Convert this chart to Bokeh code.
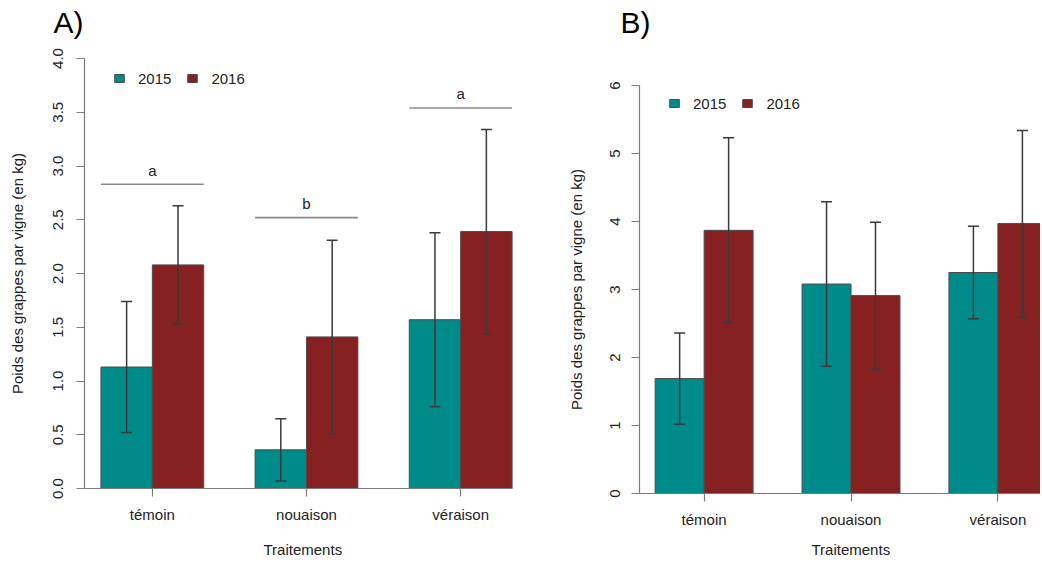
from bokeh.plotting import figure
from bokeh.models import (Range1d, FixedTicker, Whisker, TeeHead, ColumnDataSource,
                          Legend, LegendItem, Title, NumeralTickFormatter)
from bokeh.layouts import row, column
from bokeh.embed import file_html
from bokeh.resources import INLINE
from bokeh.core.properties import value

# ---------------- data ----------------
categories = ["témoin", "nouaison", "véraison"]
years = ["2015", "2016"]

a_2015 = [1.13, 0.36, 1.57]
a_2015_err = [0.61, 0.29, 0.81]
a_2016 = [2.08, 1.41, 2.39]
a_2016_err = [0.55, 0.90, 0.95]
a_letters = ["a", "b", "a"]
a_letter_y = [2.83, 2.52, 3.54]

b_2015 = [1.69, 3.08, 3.25]
b_2015_err = [0.67, 1.21, 0.68]
b_2016 = [3.87, 2.91, 3.97]
b_2016_err = [1.36, 1.08, 1.37]

a_yticks = [0.0, 0.5, 1.0, 1.5, 2.0, 2.5, 3.0, 3.5, 4.0]
b_yticks = [0, 1, 2, 3, 4, 5, 6]

TEAL = "#008B8B"
RED = "#872020"
FONT = "Liberation Sans"
TXT = "#222222"
AX = "#7a7a7a"
ERR = "#3a3a3a"


def spacer(k):
    # blank title used only to push the next title away from the frame
    return Title(text=" ", text_font_size="2px", text_color="#ffffff", standoff=k)


def make_panel(vals15, err15, vals16, err16, yticks, ymax, tick_fmt, geom, legend_loc,
               tag, tag_offset, tag_gap, xlab_offset, xlab_gap,
               ytick_standoff, ylab_standoff):
    w, h, ml, mr, mt, mb, xend = geom
    p = figure(width=w, height=h, output_backend="svg", toolbar_location=None,
               x_range=Range1d(0.68, xend), y_range=Range1d(0, ymax),
               min_border_left=ml, min_border_right=mr, min_border_top=mt, min_border_bottom=mb)
    p.outline_line_color = None
    p.grid.visible = False
    p.background_fill_color = "white"
    p.title.visible = False

    n = len(categories)
    centers = [3 * i + 2 for i in range(n)]
    x15 = [c - 0.5 for c in centers]
    x16 = [c + 0.5 for c in centers]

    s15 = ColumnDataSource(dict(x=x15, top=vals15,
                                up=[v + e for v, e in zip(vals15, err15)],
                                lo=[v - e for v, e in zip(vals15, err15)]))
    s16 = ColumnDataSource(dict(x=x16, top=vals16,
                                up=[v + e for v, e in zip(vals16, err16)],
                                lo=[v - e for v, e in zip(vals16, err16)]))

    r15 = p.vbar(x="x", top="top", bottom=0, width=1, source=s15, fill_color=TEAL,
                 line_color="#4a4a4a", line_width=1)
    r16 = p.vbar(x="x", top="top", bottom=0, width=1, source=s16, fill_color=RED,
                 line_color="#4a4a4a", line_width=1)

    for s in (s15, s16):
        wk = Whisker(source=s, base="x", upper="up", lower="lo", line_color=ERR, line_width=1.5,
                     upper_head=TeeHead(size=11, line_color=ERR, line_width=1.5),
                     lower_head=TeeHead(size=11, line_color=ERR, line_width=1.5),
                     level="overlay")
        p.add_layout(wk)

    # axes
    p.xaxis.ticker = FixedTicker(ticks=centers)
    p.xaxis.major_label_overrides = {c: cat for c, cat in zip(centers, categories)}
    p.xaxis.bounds = (0.68, 9)
    p.yaxis.ticker = FixedTicker(ticks=yticks)
    p.yaxis.formatter = NumeralTickFormatter(format=tick_fmt)
    p.yaxis.major_label_orientation = "vertical"
    for ax in (p.xaxis, p.yaxis):
        ax.axis_line_color = AX
        ax.major_tick_line_color = AX
        ax.axis_line_width = 1.2
        ax.major_tick_line_width = 1.2
        ax.major_tick_out = 8
        ax.major_tick_in = 0
        ax.minor_tick_line_color = None
        ax.major_label_text_font = FONT
        ax.major_label_text_font_size = "15px"
        ax.major_label_text_color = TXT
        ax.axis_label_text_font = FONT
        ax.axis_label_text_font_size = "15px"
        ax.axis_label_text_font_style = "normal"
        ax.axis_label_text_color = TXT
    p.xaxis.major_label_standoff = 9
    p.yaxis.major_label_standoff = ytick_standoff
    p.yaxis.axis_label = "Poids des grappes par vigne (en kg)"
    p.yaxis.axis_label_standoff = ylab_standoff

    # x axis title
    p.add_layout(spacer(xlab_gap), "below")
    p.add_layout(Title(text="Traitements", align="left", offset=xlab_offset,
                       vertical_align="top",
                       text_font=FONT, text_font_size="15px", text_font_style="normal",
                       text_color=TXT, standoff=0), "below")

    # panel tag
    p.add_layout(spacer(tag_gap), "above")
    p.add_layout(Title(text=tag, align="left", offset=tag_offset, text_font=FONT,
                       text_font_size="30px", text_font_style="normal", text_color="black",
                       standoff=0), "above")

    # legend
    legend = Legend(items=[LegendItem(label=years[0], renderers=[r15]),
                           LegendItem(label=years[1], renderers=[r16])],
                    orientation="horizontal", location=legend_loc,
                    background_fill_alpha=0, border_line_alpha=0,
                    glyph_width=12, glyph_height=10, label_standoff=13, spacing=15,
                    padding=0, margin=0, label_text_font=FONT, label_text_font_size="15px",
                    label_text_color=TXT, label_height=18)
    p.add_layout(legend)
    return p, centers


pA, centers = make_panel(a_2015, a_2015_err, a_2016, a_2016_err, a_yticks, 4, "0.0",
                         (540, 565, 84, 12, 58, 77, 9.32), (29, 401), "A)", -31, 16, 179, 11,
                         14, 24)

# significance bars and letters (panel A)
pA.segment(x0=[c - 1 for c in centers], x1=[c + 1 for c in centers], y0=a_letter_y, y1=a_letter_y,
           line_color="#8a8a8a", line_width=1.6)
pA.text(x=centers, y=a_letter_y, text=a_letters, text_font=value(FONT), text_font_size="15px",
        text_color=TXT, text_align="center", text_baseline="alphabetic", y_offset=-14)

pB, _ = make_panel(b_2015, b_2015_err, b_2016, b_2016_err, b_yticks, 6, "0",
                   (500, 565, 99, 0, 85, 72, 8.87), (29, 381), "B)", -19, 43, 172, 6,
                   12, 22)

layout = row(column(pA), column(pB))
open("out.html", "w").write(file_html(layout, INLINE))
